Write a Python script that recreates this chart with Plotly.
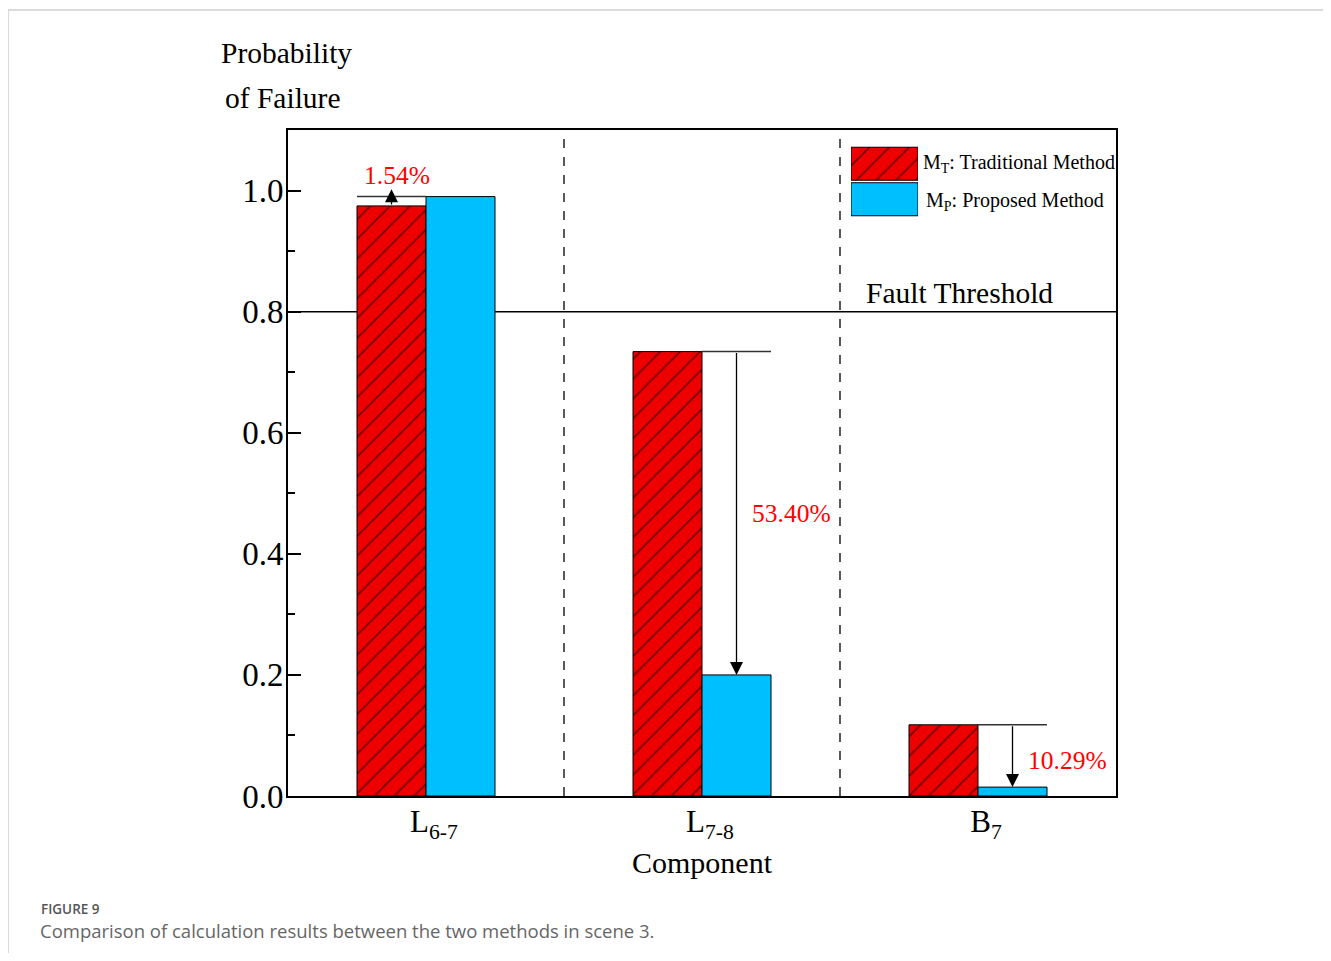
import plotly.graph_objects as go

# ---------------- data ----------------
categories = ["L<sub>6-7</sub>", "L<sub>7-8</sub>", "B<sub>7</sub>"]
mt_values = [0.9746, 0.734, 0.1176]   # M_T: Traditional Method
mp_values = [0.990, 0.200, 0.0147]    # M_P: Proposed Method
diff_labels = ["1.54%", "53.40%", "10.29%"]
threshold = 0.8
y_ticks = [0.0, 0.2, 0.4, 0.6, 0.8, 1.0]

# ---------------- layout helpers (screen pixels) ----------------
OFF = 8                  # body margin of page
FW, FH = 1315, 945
X0, X1, Y0, Y1 = 288, 1116, 130, 796   # plot area on screen


def px(X):
    return (X - X0) / (X1 - X0)


def py(Y):
    return (Y1 - Y) / (Y1 - Y0)


SERIF = "Liberation Serif"
RED = "#EE0000"
BLUE = "#00BFFF"
BAR_W = 0.25

red_style = dict(color=RED, line=dict(color="black", width=1),
                 pattern=dict(shape="/", fgcolor="black", bgcolor=RED, size=14, solidity=0.12))
blue_style = dict(color=BLUE, line=dict(color="black", width=1))

x_idx = list(range(len(categories)))

fig = go.Figure()
fig.add_trace(go.Bar(x=x_idx, y=mt_values, width=BAR_W, offset=-BAR_W,
                     marker=red_style, name="M<sub>T</sub>: Traditional Method", showlegend=False))
fig.add_trace(go.Bar(x=x_idx, y=mp_values, width=BAR_W, offset=0,
                     marker=blue_style, name="M<sub>P</sub>: Proposed Method", showlegend=False))

# legend swatches drawn as bars on an overlay axis
LEG_X0, LEG_X1, LEG_Y0, LEG_Y1 = 851, 918, 146, 217
fig.add_trace(go.Bar(y=[1], x=[1], orientation="h", width=0.93, offset=-0.465,
                     marker=red_style, xaxis="x2", yaxis="y2", showlegend=False, hoverinfo="skip"))
fig.add_trace(go.Bar(y=[0], x=[1], orientation="h", width=0.93, offset=-0.465,
                     marker=blue_style, xaxis="x2", yaxis="y2", showlegend=False, hoverinfo="skip"))

shapes = []
annotations = []

# fault threshold
shapes.append(dict(type="line", xref="paper", yref="y", x0=0, x1=1, y0=threshold, y1=threshold,
                   line=dict(color="black", width=1.5), layer="below"))
annotations.append(dict(text="Fault Threshold", xref="x", yref="y", x=1.587, y=threshold,
                        xanchor="left", yanchor="bottom", yshift=1, showarrow=False,
                        font=dict(family=SERIF, size=29.5, color="black")))

# dashed separators between categories
for i in range(len(categories) - 1):
    shapes.append(dict(type="line", xref="x", yref="paper", x0=i + 0.5, x1=i + 0.5, y0=0, y1=1,
                       line=dict(color="black", width=1.3, dash="dash")))

# difference markers
label_pos = [(-0.105, 1.025), (1.326, 0.467), (2.326, 0.059)]
for i, (mt, mp) in enumerate(zip(mt_values, mp_values)):
    if mt < mp:
        xs, xe = i - BAR_W, i
        tip = mp + 0.012
    else:
        xs, xe = i, i + BAR_W
        tip = mp
    hi = max(mt, mp)
    shapes.append(dict(type="line", xref="x", yref="y", x0=xs, x1=xe, y0=hi, y1=hi,
                       line=dict(color="#333333", width=1.5)))
    xc = (xs + xe) / 2
    annotations.append(dict(text="", xref="x", yref="y", x=xc, y=tip, ax=xc, ay=mt,
                            axref="x", ayref="y", showarrow=True, arrowhead=2, arrowsize=2,
                            arrowwidth=1.3, arrowcolor="black", standoff=0))
    lx, ly = label_pos[i]
    annotations.append(dict(text=diff_labels[i], xref="x", yref="y", x=lx, y=ly,
                            showarrow=False, font=dict(family=SERIF, size=25.5, color="#FF0000")))

# legend texts
annotations.append(dict(text="M<sub>T</sub>: Traditional Method", xref="paper", yref="paper",
                        x=px(921), y=py(163), xanchor="left", yanchor="middle", showarrow=False,
                        font=dict(family=SERIF, size=20, color="black")))
annotations.append(dict(text="M<sub>P</sub>: Proposed Method", xref="paper", yref="paper",
                        x=px(924), y=py(201), xanchor="left", yanchor="middle", showarrow=False,
                        font=dict(family=SERIF, size=20, color="black")))

# y-axis title (two lines above the axis)
annotations.append(dict(text="Probability", xref="paper", yref="paper", x=px(219), y=py(53),
                        xanchor="left", yanchor="middle", showarrow=False,
                        font=dict(family=SERIF, size=29.5, color="black")))
annotations.append(dict(text="of Failure", xref="paper", yref="paper", x=px(223), y=py(98),
                        xanchor="left", yanchor="middle", showarrow=False,
                        font=dict(family=SERIF, size=29.5, color="black")))
# x-axis title
annotations.append(dict(text="Component", xref="paper", yref="paper", x=px(702), y=py(862),
                        xanchor="center", yanchor="middle", showarrow=False,
                        font=dict(family=SERIF, size=30, color="black")))

# caption
annotations.append(dict(text="FIGURE 9", xref="paper", yref="paper", x=px(39), y=py(909),
                        xanchor="left", yanchor="middle", showarrow=False,
                        font=dict(family="Open Sans", size=13.5, color="#555555", weight=600)))
annotations.append(dict(text="Comparison of calculation results between the two methods in scene 3.",
                        xref="paper", yref="paper", x=px(38), y=py(930),
                        xanchor="left", yanchor="middle", showarrow=False,
                        font=dict(family="Open Sans", size=18.5, color="#666666")))

# card border
shapes.append(dict(type="rect", xref="paper", yref="paper", x0=px(8), x1=px(1329), y0=py(990), y1=py(10),
                   line=dict(color="#d0d0d0", width=1.5), layer="below"))

fig.update_layout(
    width=FW, height=FH,
    margin=dict(l=X0 - OFF, r=FW - (X1 - OFF), t=Y0 - OFF, b=FH - (Y1 - OFF), pad=0),
    paper_bgcolor="white", plot_bgcolor="white",
    showlegend=False,
    shapes=shapes, annotations=annotations,
    xaxis=dict(range=[-0.5, 2.5], tickvals=x_idx, ticktext=categories, ticks="",
               showgrid=False, zeroline=False, showline=True, linecolor="black", linewidth=2,
               mirror=True, tickfont=dict(family=SERIF, size=31, color="black"),
               ticklabelshift=8, ticklabelstandoff=-3),
    yaxis=dict(range=[0, 1.1], tickvals=y_ticks, tickformat=".1f", ticks="inside", ticklen=13,
               tickwidth=1.5, tickcolor="black", showgrid=False, zeroline=False, showline=True,
               linecolor="black", linewidth=2, mirror=True,
               tickfont=dict(family=SERIF, size=33, color="black"), ticklabelstandoff=-4,
               minor=dict(dtick=0.1, ticks="inside", ticklen=7, tickwidth=1.5, tickcolor="black")),
    xaxis2=dict(domain=[px(LEG_X0), px(LEG_X1)], range=[0, 1], visible=False, anchor="y2"),
    yaxis2=dict(domain=[py(LEG_Y1), py(LEG_Y0)], range=[-0.5, 1.5], visible=False, anchor="x2"),
)

fig.write_html("out.html")
